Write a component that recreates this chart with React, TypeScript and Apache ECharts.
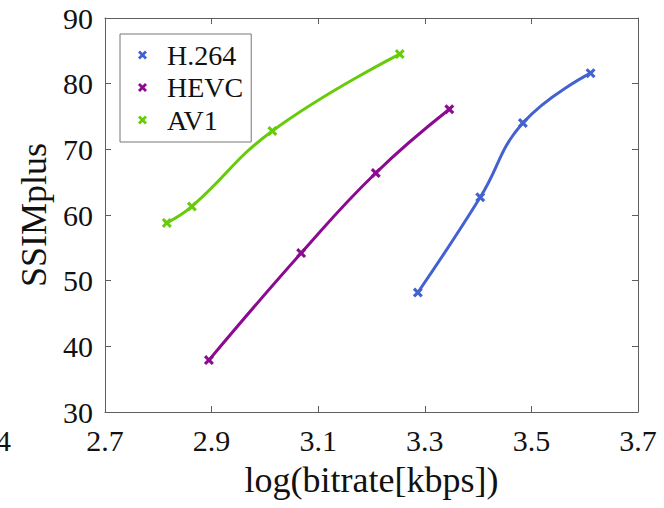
import React, { useEffect, useRef } from "react";
import * as echarts from "echarts";

const seriesNames = ["H.264", "HEVC", "AV1"];
const h264X = [3.287, 3.404, 3.484, 3.611];
const h264Y = [48.2, 62.7, 74.0, 81.6];
const hevcX = [2.895, 3.068, 3.208, 3.346];
const hevcY = [37.9, 54.2, 66.4, 76.1];
const av1X = [2.816, 2.863, 3.014, 3.253];
const av1Y = [58.8, 61.3, 72.8, 84.5];
const colors = ["#4262d2", "#8c0a91", "#66cc0a"];

const FONT = "'Liberation Serif', 'Times New Roman', serif";
const CROSS =
  "path://M0,2.2L2.2,0L5,2.8L7.8,0L10,2.2L7.2,5L10,7.8L7.8,10L5,7.2L2.2,10L0,7.8L2.8,5Z";

const zip = (xs: number[], ys: number[]) => xs.map((x, i) => [x, ys[i]]);

export default function App() {
  const ref = useRef<HTMLDivElement>(null);
  useEffect(() => {
    if (!ref.current) return;
    const chart = echarts.init(ref.current, undefined, { renderer: "svg" });
    const axisLine = { show: true, lineStyle: { color: "#5e5e5e", width: 1 } };
    const tick = { show: true, inside: true, length: 6, lineStyle: { color: "#5e5e5e" } };
    const datasets = [zip(h264X, h264Y), zip(hevcX, hevcY), zip(av1X, av1Y)];
    chart.setOption({
      animation: false,
      backgroundColor: "#ffffff",
      textStyle: { fontFamily: FONT },
      grid: { left: 105, right: 26, top: 18, bottom: 96, containLabel: false },
      legend: {
        orient: "vertical",
        left: 120,
        top: 34,
        data: seriesNames,
        icon: CROSS,
        itemWidth: 9,
        itemHeight: 9,
        itemGap: 4.5,
        padding: [7, 8, 8, 18],
        borderColor: "#777777",
        borderWidth: 1,
        backgroundColor: "#ffffff",
        textStyle: {
          fontFamily: FONT,
          fontSize: 28,
          color: "#111111",
          lineHeight: 28,
          padding: [0, 0, 0, 15],
        },
      },
      xAxis: [
        {
          type: "value",
          min: 2.7,
          max: 3.7,
          interval: 0.2,
          name: "log(bitrate[kbps])",
          nameLocation: "middle",
          nameGap: 50,
          nameTextStyle: { fontFamily: FONT, fontSize: 36, color: "#111111" },
          axisLine,
          axisTick: tick,
          splitLine: { show: false },
          axisLabel: {
            fontFamily: FONT,
            fontSize: 30,
            color: "#111111",
            margin: 13,
            formatter: (v: number) => v.toFixed(1),
          },
        },
        {
          type: "value",
          position: "top",
          min: 2.7,
          max: 3.7,
          interval: 0.2,
          axisLine,
          axisTick: tick,
          splitLine: { show: false },
          axisLabel: { show: false },
        },
      ],
      yAxis: [
        {
          type: "value",
          min: 30,
          max: 90,
          interval: 10,
          name: "SSIMplus",
          nameLocation: "middle",
          nameGap: 47,
          nameTextStyle: { fontFamily: FONT, fontSize: 36, color: "#111111" },
          axisLine,
          axisTick: tick,
          splitLine: { show: false },
          axisLabel: { fontFamily: FONT, fontSize: 30, color: "#111111", margin: 12 },
        },
        {
          type: "value",
          position: "right",
          min: 30,
          max: 90,
          interval: 10,
          axisLine,
          axisTick: tick,
          splitLine: { show: false },
          axisLabel: { show: false },
        },
      ],
      graphic: [
        {
          type: "text",
          left: -4,
          top: 425,
          style: { text: "4", font: `30px ${FONT}`, fill: "#111111" },
        },
      ],
      series: seriesNames.map((name, i) => ({
        name,
        type: "line",
        data: datasets[i],
        smooth: 0.45,
        symbol: CROSS,
        symbolSize: 10,
        color: colors[i],
        lineStyle: { color: colors[i], width: 3 },
        itemStyle: { color: colors[i] },
      })),
    });
    return () => chart.dispose();
  }, []);
  return <div ref={ref} style={{ width: 664, height: 508, position: "absolute", left: 0, top: 0 }} />;
}
